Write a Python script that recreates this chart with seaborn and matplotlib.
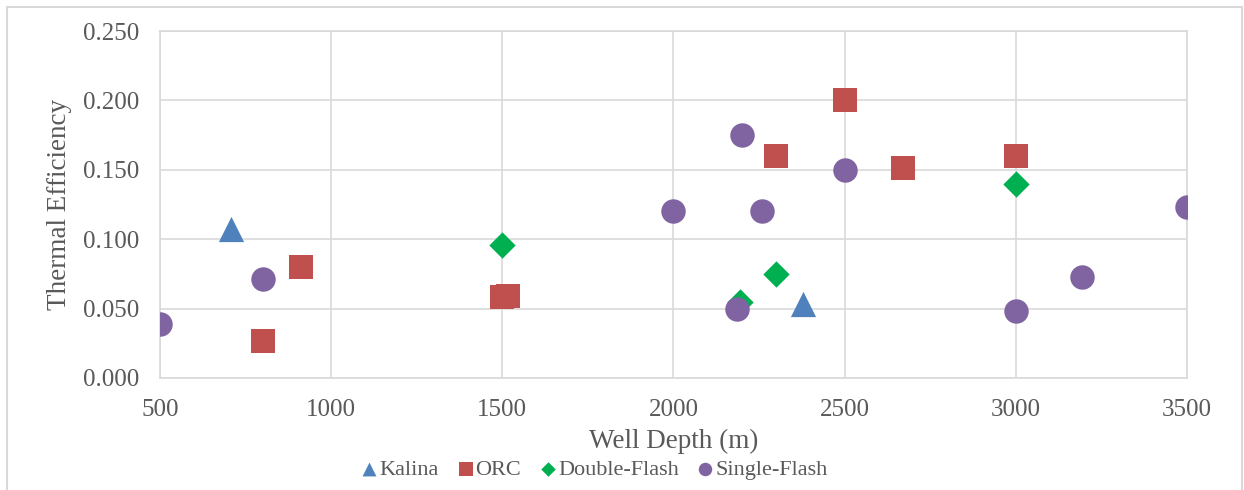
import matplotlib
matplotlib.use("Agg")
import matplotlib.pyplot as plt
import seaborn as sns
import pandas as pd
from matplotlib.patches import Rectangle
from matplotlib.ticker import FormatStrFormatter, MultipleLocator

kalina_x = [708, 2380]
kalina_y = [0.107, 0.053]
orc_x = [800, 912, 1498, 1516, 2300, 2500, 2671, 3000]
orc_y = [0.027, 0.080, 0.058, 0.059, 0.160, 0.200, 0.151, 0.160]
dflash_x = [1500, 2195, 2300, 3000]
dflash_y = [0.096, 0.055, 0.075, 0.140]
sflash_x = [500, 800, 2000, 2200, 2260, 2185, 2500, 3000, 3195, 3500]
sflash_y = [0.039, 0.071, 0.120, 0.175, 0.120, 0.050, 0.150, 0.048, 0.073, 0.123]

series = ["Kalina", "ORC", "Double-Flash", "Single-Flash"]
colors = {"Kalina": "#4F81BD", "ORC": "#C0504D", "Double-Flash": "#00B050", "Single-Flash": "#8064A2"}
markers = {"Kalina": "^", "ORC": "s", "Double-Flash": "D", "Single-Flash": "o"}
msize = {"Kalina": 330, "ORC": 300, "Double-Flash": 180, "Single-Flash": 310}

frames = []
for name, xs, ys in [("Kalina", kalina_x, kalina_y), ("ORC", orc_x, orc_y),
                     ("Double-Flash", dflash_x, dflash_y), ("Single-Flash", sflash_x, sflash_y)]:
    frames.append(pd.DataFrame({"depth": xs, "eff": ys, "type": name}))
df = pd.concat(frames, ignore_index=True)

sns.set_style("white")
plt.rcParams["font.family"] = ["Liberation Serif", "DejaVu Serif"]

fig = plt.figure(figsize=(12.44, 4.9), dpi=100)
ax = fig.add_axes([0.1286, 0.2286, 0.8254, 0.7081])

for name in series:
    sub = df[df["type"] == name]
    sns.scatterplot(data=sub, x="depth", y="eff", ax=ax, color=colors[name],
                    marker=markers[name], s=msize[name], linewidth=0, label=name,
                    zorder=3)

ax.set_xlim(500, 3500)
ax.set_ylim(0, 0.25)
ax.xaxis.set_major_locator(MultipleLocator(500))
ax.yaxis.set_major_locator(MultipleLocator(0.05))
ax.yaxis.set_major_formatter(FormatStrFormatter("%.3f"))
ax.grid(True, color="#D9D9D9", linewidth=1.2, zorder=0)
ax.set_axisbelow(True)
for sp in ax.spines.values():
    sp.set_color("#D9D9D9")
    sp.set_linewidth(1.2)
ax.tick_params(axis="both", length=0, labelsize=18, labelcolor="#595959", pad=15)
ax.set_xlabel("Well Depth (m)", fontsize=19.5, color="#595959", labelpad=6)
ax.set_ylabel("Thermal Efficiency", fontsize=19.5, color="#595959", labelpad=8)

handles, labels = ax.get_legend_handles_labels()
leg = ax.legend(handles, labels, loc="center", bbox_to_anchor=(0.478, 0.041),
                bbox_transform=fig.transFigure, ncol=4, frameon=False,
                fontsize=16, markerscale=0.55, handletextpad=0.1,
                columnspacing=0.85, handlelength=0.7)
for t in leg.get_texts():
    t.set_color("#595959")

fig.patches.append(Rectangle((0.0056, -0.02), 0.9928, 1.006, transform=fig.transFigure,
                             fill=False, edgecolor="#D9D9D9", linewidth=1.5))

fig.savefig("out.png", dpi=100, facecolor="white")
